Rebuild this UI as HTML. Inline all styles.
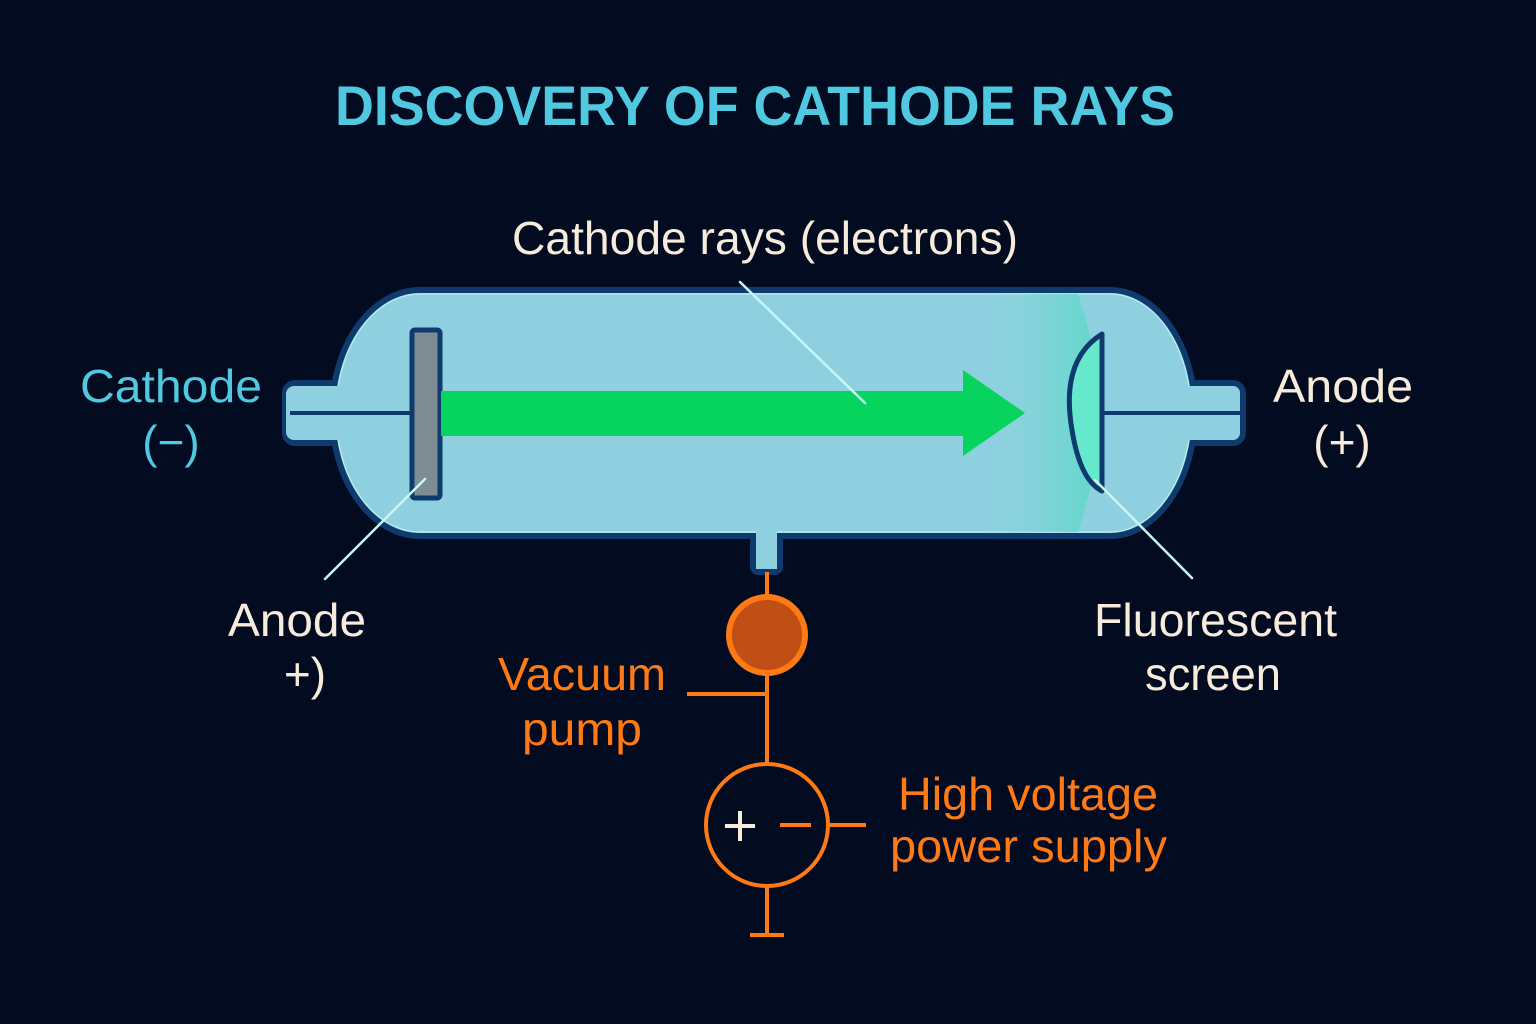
<!DOCTYPE html>
<html><head><meta charset="utf-8"><style>
html,body{margin:0;padding:0;background:#020b1f;}
svg{display:block;}
text{font-family:"Liberation Sans",sans-serif;}
</style></head><body>
<svg width="1536" height="1024" viewBox="0 0 1536 1024" xmlns="http://www.w3.org/2000/svg">
<defs>
<linearGradient id="glow" x1="0" x2="1" y1="0" y2="0">
<stop offset="0" stop-color="#8fd3e0" stop-opacity="0"/>
<stop offset="0.65" stop-color="#6fd6d0" stop-opacity="0.7"/>
<stop offset="1" stop-color="#5fd8c8" stop-opacity="0.95"/>
</linearGradient>
</defs>
<rect width="1536" height="1024" fill="#020b1f"/>
<text x="755" y="125" font-size="56" font-weight="bold" fill="#4fc8e0" text-anchor="middle" textLength="840" lengthAdjust="spacingAndGlyphs">DISCOVERY OF CATHODE RAYS</text>

<rect x="285" y="383" width="70" height="60" rx="10" fill="#8ed0df" stroke="#0f3a6e" stroke-width="6"/>
<rect x="1175" y="383" width="68" height="60" rx="10" fill="#8ed0df" stroke="#0f3a6e" stroke-width="6"/>
<rect x="753" y="520" width="27" height="52" rx="5" fill="#8ed0df" stroke="#0f3a6e" stroke-width="6"/>
<path d="M420,290 L1110,290 A85,123 0 0 1 1110,536 L420,536 A88,123 0 0 1 420,290 Z" fill="#8ed0df" stroke="#0f3a6e" stroke-width="6"/>
<path d="M420,294 L1110,294 A81,119 0 0 1 1110,532 L420,532 A84,119 0 0 1 420,294 Z" fill="none" stroke="#c8f5f5" stroke-width="1.2" opacity="0.8"/>
<rect x="286" y="386" width="66" height="54" rx="8" fill="#8ed0df"/>
<rect x="1178" y="386" width="62" height="54" rx="8" fill="#8ed0df"/>
<rect x="756" y="530" width="21" height="39" fill="#8ed0df"/>
<path d="M980,294 L1078,294 Q1118,413 1078,532 L980,532 Z" fill="url(#glow)"/>
<line x1="290" y1="413" x2="412" y2="413" stroke="#0f3a6e" stroke-width="4"/>
<line x1="1103" y1="413" x2="1240" y2="413" stroke="#0f3a6e" stroke-width="4"/>
<rect x="412" y="330" width="28" height="168" rx="3" fill="#7f8c94" stroke="#0f3a6e" stroke-width="5"/>
<rect x="441" y="391" width="524" height="45" fill="#07d35f"/>
<polygon points="963,370 1025,413 963,456" fill="#07d35f"/>
<path d="M1102,334 Q1060,360 1072,430 Q1080,480 1102,491 Z" fill="#66e8cc" stroke="#0f3a6e" stroke-width="5" stroke-linejoin="round"/>
<g stroke="#c8f5f5" stroke-width="2.5" stroke-linecap="round">
<line x1="740" y1="282" x2="865" y2="403"/>
<line x1="425" y1="479" x2="325" y2="579"/>
<line x1="1095" y1="480" x2="1192" y2="578"/>
</g>
<g stroke="#ff7a14" stroke-width="4" fill="none">
<line x1="767" y1="572" x2="767" y2="763"/>
<line x1="687" y1="694" x2="767" y2="694"/>
<circle cx="767" cy="825" r="61"/>
<line x1="829" y1="825" x2="866" y2="825"/>
<line x1="767" y1="886" x2="767" y2="935"/>
<line x1="750" y1="935" x2="784" y2="935"/>
<line x1="780" y1="825" x2="811" y2="825"/>
</g>
<circle cx="767" cy="635" r="38" fill="#c04f15" stroke="#ff7a14" stroke-width="6"/>
<g stroke="#f7ecdc" stroke-width="4">
<line x1="725" y1="826" x2="755" y2="826"/>
<line x1="740" y1="811" x2="740" y2="841"/>
</g>
<g font-size="46">
<text x="512" y="254" fill="#f7ecdc" textLength="506" lengthAdjust="spacingAndGlyphs">Cathode rays (electrons)</text>
<text x="80" y="402" fill="#4fc8e0" textLength="182" lengthAdjust="spacingAndGlyphs">Cathode</text>
<text x="171" y="458" fill="#4fc8e0" text-anchor="middle">(−)</text>
<text x="1273" y="402" fill="#f7ecdc" textLength="140" lengthAdjust="spacingAndGlyphs">Anode</text>
<text x="1342" y="458" fill="#f7ecdc" text-anchor="middle">(+)</text>
<text x="228" y="636" fill="#f7ecdc" textLength="138" lengthAdjust="spacingAndGlyphs">Anode</text>
<text x="305" y="690" fill="#f7ecdc" text-anchor="middle">+)</text>
<text x="498" y="690" fill="#ff7a14" textLength="168" lengthAdjust="spacingAndGlyphs">Vacuum</text>
<text x="522" y="745" fill="#ff7a14" textLength="120" lengthAdjust="spacingAndGlyphs">pump</text>
<text x="1094" y="636" fill="#f7ecdc" textLength="243" lengthAdjust="spacingAndGlyphs">Fluorescent</text>
<text x="1145" y="690" fill="#f7ecdc" textLength="136" lengthAdjust="spacingAndGlyphs">screen</text>
<text x="898" y="810" fill="#ff7a14" textLength="260" lengthAdjust="spacingAndGlyphs">High voltage</text>
<text x="890" y="862" fill="#ff7a14" textLength="277" lengthAdjust="spacingAndGlyphs">power supply</text>
</g>
</svg>
</body></html>
